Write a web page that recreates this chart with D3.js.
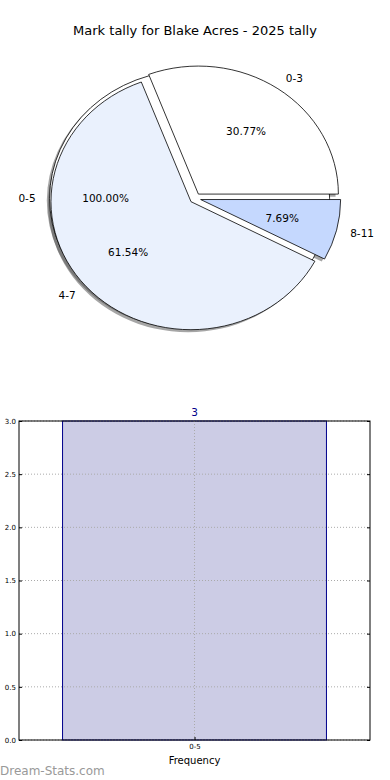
<!DOCTYPE html>
<html>
<head>
<meta charset="utf-8">
<script src="https://cdn.jsdelivr.net/npm/d3@7/dist/d3.min.js"></script>
<style>
  html, body { margin: 0; padding: 0; background: #fff; }
  svg { display: block; font-family: "DejaVu Sans", sans-serif; }
</style>
</head>
<body>
<svg id="chart" width="390" height="780"></svg>
<script>
// ---- data ----
const title = "Mark tally for Blake Acres - 2025 tally";
const pieCategories = ["0-3", "4-7", "8-11"];
const pieValues = [4, 8, 1];
const pieColors = ["#ffffff", "#eaf1fd", "#c5d8fe"];
const outerCategories = ["0-5"];
const outerValues = [1];
const barCategories = ["0-5"];
const barValues = [3];
const yTicks = [0.0, 0.5, 1.0, 1.5, 2.0, 2.5, 3.0];
const xLabel = "Frequency";
const watermark = "Dream-Stats.com";

(function () {
const svg = d3.select("#chart");

// title
svg.append("text").attr("x", 195).attr("y", 35).attr("text-anchor", "middle")
  .attr("font-size", 13).attr("fill", "#000").text(title);

// ---- pie ----
const C = {x: 195.2, y: 198.3};
const rx = 140, ry = 128;
const explode = 0.04;
const pie = d3.pie().sort(null).startAngle(Math.PI / 2).endAngle(Math.PI / 2 - 2 * Math.PI);
const arcUnit = d3.arc().innerRadius(0).outerRadius(1);
const gPie = svg.append("g");

function layout(values, labels, colors) {
  return pie(values).map((d, i) => {
    const mid = (d.startAngle + d.endAngle) / 2;
    const ux = Math.sin(mid), uy = -Math.cos(mid);
    return {
      d, label: labels[i], color: colors[i],
      cx: C.x + explode * rx * ux, cy: C.y + explode * ry * uy,
      ux, uy, pct: d.value / d3.sum(values) * 100
    };
  });
}
const outer = layout(outerValues, outerCategories, ["#ffffff"]);
const inner = layout(pieValues, pieCategories, pieColors);
const all = outer.concat(inner);

function wedge(g, w, dx, dy) {
  return g.append("path")
    .attr("d", arcUnit(w.d))
    .attr("transform", `translate(${w.cx + dx},${w.cy + dy}) scale(${rx},${ry})`)
    .attr("vector-effect", "non-scaling-stroke");
}
// shadows
all.forEach(w => {
  wedge(gPie, w, -0.02 * rx, 0.02 * ry).attr("fill", "#4d4d4d").attr("fill-opacity", 0.5);
});
// wedges
all.forEach(w => {
  wedge(gPie, w, 0, 0).attr("fill", w.color).attr("stroke", "#000").attr("stroke-width", 0.8);
});
// labels
all.forEach(w => {
  const lx = w.cx + 1.1 * rx * w.ux, ly = w.cy + 1.1 * ry * w.uy;
  gPie.append("text").attr("x", lx).attr("y", ly).attr("dy", "0.35em")
    .attr("text-anchor", w.ux >= 0 ? "start" : "end")
    .attr("font-size", 10.5).text(w.label);
  const px = w.cx + 0.6 * rx * w.ux, py = w.cy + 0.6 * ry * w.uy;
  gPie.append("text").attr("x", px).attr("y", py).attr("dy", "0.35em")
    .attr("text-anchor", "middle").attr("font-size", 10.5).text(w.pct.toFixed(2) + "%");
});

// ---- bar chart ----
const pl = 19, pr = 370, pt = 421, pb = 740;
const x = d3.scaleLinear().domain([-0.532, 0.532]).range([pl, pr]);
const y = d3.scaleLinear().domain([0, 3]).range([pb, pt]);
const barW = 0.8;
const gBar = svg.append("g");

// bars
barValues.forEach((v, i) => {
  gBar.append("rect")
    .attr("x", x(i - barW / 2)).attr("y", y(v))
    .attr("width", x(i + barW / 2) - x(i - barW / 2)).attr("height", y(0) - y(v))
    .attr("fill", "#ccccE5").attr("stroke", "#00008b").attr("stroke-width", 1);
  gBar.append("text").attr("x", x(i)).attr("y", y(v) - 5).attr("text-anchor", "middle")
    .attr("font-size", 10.5).attr("fill", "#00008b").text(v);
});

// grid
const grid = gBar.append("g").attr("stroke", "#aaaaaa").attr("stroke-width", 1)
  .attr("stroke-dasharray", "1,2");
yTicks.forEach(t => {
  grid.append("line").attr("x1", pl).attr("x2", pr).attr("y1", y(t)).attr("y2", y(t));
});
barCategories.forEach((c, i) => {
  grid.append("line").attr("x1", x(i)).attr("x2", x(i)).attr("y1", pt).attr("y2", pb);
});

// frame
gBar.append("rect").attr("x", pl).attr("y", pt).attr("width", pr - pl)
  .attr("height", pb - pt).attr("fill", "none").attr("stroke", "#000").attr("stroke-width", 1);

// y axis ticks
const yAxis = d3.axisLeft(y).tickValues(yTicks).tickFormat(d3.format(".1f")).tickSize(-3).tickPadding(3);
gBar.append("g").attr("transform", `translate(${pl},0)`).call(yAxis)
  .call(g => g.select(".domain").remove())
  .call(g => g.selectAll("text").attr("font-size", 7).attr("font-family", "DejaVu Sans"));
const yAxisR = d3.axisRight(y).tickValues(yTicks).tickFormat("").tickSize(-3);
gBar.append("g").attr("transform", `translate(${pr},0)`).call(yAxisR)
  .call(g => g.select(".domain").remove());

// x axis
const xAxis = d3.axisBottom(x).tickValues(barCategories.map((c, i) => i))
  .tickFormat((d, i) => barCategories[i]).tickSize(-3).tickPadding(4);
gBar.append("g").attr("transform", `translate(0,${pb})`).call(xAxis)
  .call(g => g.select(".domain").remove())
  .call(g => g.selectAll("text").attr("font-size", 7).attr("font-family", "DejaVu Sans"));

gBar.append("text").attr("x", x(0)).attr("y", 764).attr("text-anchor", "middle")
  .attr("font-size", 10).text(xLabel);

svg.append("text").attr("x", 0).attr("y", 775).attr("font-size", 12)
  .attr("fill", "#999999").text(watermark);
})();
</script>
</body>
</html>
